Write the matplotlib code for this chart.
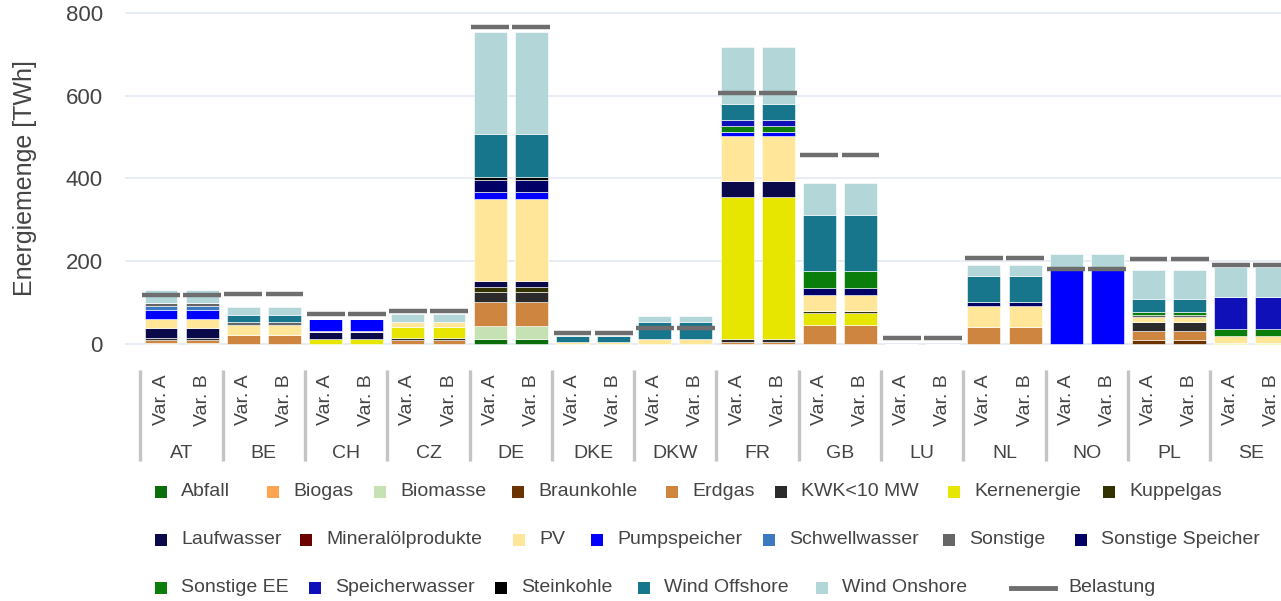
import matplotlib
matplotlib.use('Agg')
import matplotlib.pyplot as plt
import matplotlib.transforms as mtransforms
from matplotlib.patches import Rectangle
from matplotlib.lines import Line2D
import numpy as np

plt.rcParams['font.family'] = ['Liberation Sans', 'DejaVu Sans']

# ---------------- data ----------------
countries = ['AT', 'BE', 'CH', 'CZ', 'DE', 'DKE', 'DKW', 'FR', 'GB', 'LU', 'NL', 'NO', 'PL', 'SE']
variants = ['Var. A', 'Var. B']

sources = ['Abfall', 'Biogas', 'Biomasse', 'Braunkohle', 'Erdgas', 'KWK<10 MW', 'Kernenergie',
           'Kuppelgas', 'Laufwasser', 'Mineralölprodukte', 'PV', 'Pumpspeicher', 'Schwellwasser',
           'Sonstige', 'Sonstige Speicher', 'Sonstige EE', 'Speicherwasser', 'Steinkohle',
           'Wind Offshore', 'Wind Onshore']

#                AT  BE  CH  CZ   DE DKE DKW   FR   GB LU  NL   NO   PL  SE
abfall       = [0,  0,  0,  0,  11,  0,  0,   0,   0, 0,  0,   0,   0,  0]
biogas       = [0,  0,  0,  0,   0,  0,  0,   0,   0, 0,  0,   0,   0,  0]
biomasse     = [3,  0,  0,  0,  32,  0,  0,   0,   0, 0,  0,   0,   0,  0]
braunkohle   = [0,  0,  0,  0,   0,  0,  0,   0,   0, 0,  0,   0,   9,  0]
erdgas       = [6, 22,  0, 10,  58,  0,  0,   5,  45, 0, 40,   0,  22,  0]
kwk          = [5,  0,  0,  4,  24,  0,  0,   8,   0, 0,  0,   0,  21,  0]
kernenergie  = [0,  0, 11, 26,   0,  0,  0, 342,  29, 0,  0,   0,   0,  3]
kuppelgas    = [0,  0,  0,  0,  12,  0,  0,   0,   5, 0,  0,   0,   0,  0]
laufwasser   = [24, 0, 18,  0,  16,  0,  0,  38,   0, 0,  0,   0,   0,  0]
mineraloel   = [0,  0,  0,  0,   0,  0,  0,   0,   0, 0,  0,   0,   0,  0]
pv           = [22, 24, 3, 14, 197,  6, 11, 109,  39, 0, 52,   0,  14, 17]
pumpspeicher = [21, 0, 29,  0,  18,  0,  0,  10,   0, 0,  0, 180,   0,  0]
schwellwasser= [10, 0,  0,  0,   0,  0,  0,   0,   0, 0,  0,   0,   0,  0]
sonstige     = [8,  8,  0,  0,   0,  0,  0,   0,   0, 0,  0,   0,   5,  0]
sonst_speich = [0,  0,  0,  0,  28,  0,  0,   0,  17, 0, 10,   0,   0,  0]
sonstige_ee  = [0,  0,  0,  0,   0,  0,  0,  14,  42, 0,  0,   0,   7, 16]
speicherw    = [0,  0,  0,  0,   0,  0,  0,  16,   0, 0,  0,   0,   0, 78]
steinkohle   = [0,  0,  0,  0,   8,  0,  0,   0,   0, 0,  0,   0,   0,  0]
wind_off     = [0, 16,  0,  0, 103, 13, 43,  39, 135, 0, 62,   0,  30,  0]
wind_on      = [32, 19, 0, 19, 248,  0, 14, 138,  76, 0, 27,  37,  71, 72]

belastung    = [118, 122, 72, 80, 765, 26, 38, 606, 457, 14, 209, 181, 205, 190]

series = [abfall, biogas, biomasse, braunkohle, erdgas, kwk, kernenergie, kuppelgas,
          laufwasser, mineraloel, pv, pumpspeicher, schwellwasser, sonstige, sonst_speich,
          sonstige_ee, speicherw, steinkohle, wind_off, wind_on]

colors = ['#0b6e0b', '#ffa54f', '#c6e2b4', '#6b3300', '#cd853f', '#2b2b2b', '#e6e600',
          '#333300', '#0a0a4a', '#6b0000', '#ffe699', '#0000ff', '#3a78c0', '#666666',
          '#000066', '#0a7d0a', '#1010b8', '#000000', '#17768c', '#b3d6d9']
bel_color = '#6e6e6e'

# ---------------- figure ----------------
W, H = 1281, 601
fig = plt.figure(figsize=(W / 100, H / 100), dpi=100)
px_per = 331 / 800.0
ymin, ymax = -6, 806
ax_bottom_px = 344 + (-ymin) * px_per
ax_h_px = (ymax - ymin) * px_per
ax = fig.add_axes([125 / W, (H - ax_bottom_px) / H, (W - 125) / W, ax_h_px / H])

xs = np.array([2 * i + j for i in range(len(countries)) for j in range(len(variants))])
bottom = np.zeros(len(xs))
for vals, col in zip(series, colors):
    v = np.repeat(np.array(vals, dtype=float), len(variants))
    ax.bar(xs, v, bottom=bottom, width=0.8, color=col, edgecolor='white', linewidth=0.4, zorder=3)
    bottom += v

bel = np.repeat(np.array(belastung, dtype=float), len(variants))
ax.hlines(bel, xs - 0.46, xs + 0.46, color=bel_color, linewidth=3.2, zorder=5)

ax.set_xlim(-0.875, 27.22)
ax.set_ylim(ymin, ymax)
ax.set_yticks([0, 200, 400, 600, 800])
ax.set_xticks([])
ax.tick_params(axis='y', length=0, pad=16, labelsize=16, labelcolor='#444444')
for s in ax.spines.values():
    s.set_visible(False)
ax.yaxis.grid(True, color='#e6ecf5', linewidth=1.3)
ax.set_axisbelow(True)

trans = mtransforms.blended_transform_factory(ax.transData, ax.transAxes)
def yfrac(py):
    return (ax_bottom_px - py) / ax_h_px

for i, c in enumerate(countries):
    for j, vname in enumerate(variants):
        ax.text(2 * i + j, yfrac(400), vname, transform=trans, rotation=90, ha='center',
                va='center', fontsize=14, color='#444444', clip_on=False)
    ax.text(2 * i + 0.5, yfrac(453), c, transform=trans, ha='center', va='center',
            fontsize=14, color='#444444', clip_on=False)
    ax.plot([2 * i - 0.5, 2 * i - 0.5], [yfrac(370), yfrac(461)], transform=trans,
            color='#c4c4c4', linewidth=2.4, clip_on=False, solid_capstyle='butt')

fig.text(25 / W, 1 - 178 / H, 'Energiemenge [TWh]', rotation=90, ha='center', va='center',
         fontsize=18, color='#444444')

# ---------------- legend (manual, flowing rows) ----------------
leg_rows = [
    (492, [161, 273, 380, 518, 672, 781, 954, 1109]),
    (540, [161, 306, 519, 597, 769, 949, 1081]),
    (588, [161, 315, 501, 644, 822, 1033]),
]
labels = sources + ['Belastung']
lcolors = colors + [bel_color]
k = 0
for py, xs_row in leg_rows:
    for mx in xs_row:
        lab = labels[k]
        col = lcolors[k]
        if lab == 'Belastung':
            fig.add_artist(Line2D([(mx - 22) / W, (mx + 22) / W], [1 - py / H, 1 - py / H],
                                  transform=fig.transFigure, color=col, linewidth=3.5))
            tx = 1068
        else:
            fig.add_artist(Rectangle(((mx - 6) / W, 1 - (py + 6) / H), 12 / W, 12 / H,
                                     transform=fig.transFigure, facecolor=col, edgecolor='none'))
            tx = mx + 20
        fig.text(tx / W, 1 - py / H, lab, ha='left', va='center', fontsize=14, color='#444444')
        k += 1

fig.savefig('out.png', dpi=100)
